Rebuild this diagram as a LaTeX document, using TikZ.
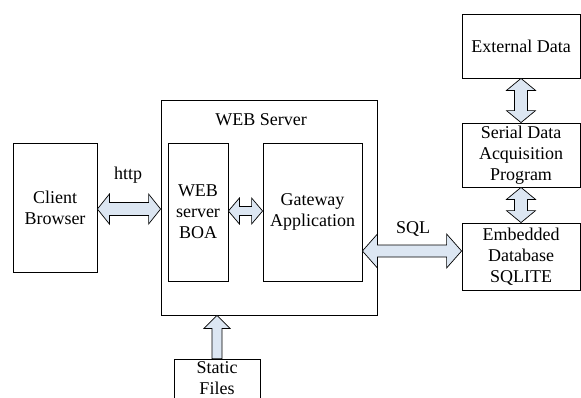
\documentclass[tikz,border=0pt]{standalone}
\usepackage{fontspec}
\setmainfont{Liberation Serif}
\usetikzlibrary{calc}
\definecolor{arrowfill}{HTML}{DCE6F2}
\tikzset{
  box/.style={draw, line width=0.8pt, align=center, inner sep=0pt,
              font=\fontsize{18}{21}\selectfont},
  lbl/.style={font=\fontsize{18}{21}\selectfont, inner sep=0pt},
  fat/.style={draw, line width=0.7pt, fill=arrowfill, line join=miter}
}
% horizontal two-headed block arrow: #1,#2 anchors, #3 shaft half width, #4 head half width, #5 head length
\newcommand\hbiarrow[5]{%
  \draw[fat] let \p1=(#1), \p2=(#2), \n1={(\y1+\y2)/2} in
    (\x1,\n1) -- (\x1+#5,\n1+#4) -- (\x1+#5,\n1+#3) -- (\x2-#5,\n1+#3)
    -- (\x2-#5,\n1+#4) -- (\x2,\n1) -- (\x2-#5,\n1-#4) -- (\x2-#5,\n1-#3)
    -- (\x1+#5,\n1-#3) -- (\x1+#5,\n1-#4) -- cycle;}
% vertical two-headed block arrow
\newcommand\vbiarrow[5]{%
  \draw[fat] let \p1=(#1), \p2=(#2), \n1={(\x1+\x2)/2} in
    (\n1,\y1) -- (\n1+#4,\y1-#5) -- (\n1+#3,\y1-#5) -- (\n1+#3,\y2+#5)
    -- (\n1+#4,\y2+#5) -- (\n1,\y2) -- (\n1-#4,\y2+#5) -- (\n1-#3,\y2+#5)
    -- (\n1-#3,\y1-#5) -- (\n1-#4,\y1-#5) -- cycle;}
% vertical single-headed block arrow pointing from #1 up to #2
\newcommand\vuparrow[5]{%
  \draw[fat] let \p1=(#1), \p2=(#2) in
    (\x2,\y2) -- (\x2+#4,\y2-#5) -- (\x2+#3,\y2-#5) -- (\x2+#3,\y1)
    -- (\x2-#3,\y1) -- (\x2-#3,\y2-#5) -- (\x2-#4,\y2-#5) -- cycle;}
\begin{document}
\begin{tikzpicture}[x=1pt, y=-1pt]
  \useasboundingbox (0,0) rectangle (581,397);
  \clip (0,0) rectangle (581,397);

  % boxes
  \node[box, minimum width=84pt, minimum height=129pt] (client) at (55,207.5) {Client\\Browser};
  \node[draw, line width=0.8pt, minimum width=216pt, minimum height=215pt] (server) at (269,207.5) {};
  \node[lbl] (servertitle) at (261,120) {WEB Server};
  \node[box, minimum width=60pt, minimum height=138pt] (boa) at (198,212) {WEB\\server\\BOA};
  \node[box, minimum width=99pt, minimum height=138pt] (gw) at (312.5,212) {Gateway\\Application};
  \node[box, minimum width=118pt, minimum height=64pt] (ext) at (521,46) {External Data};
  \node[box, minimum width=118pt, minimum height=64pt] (serial) at (521,155) {Serial Data\\Acquisition\\Program};
  \node[box, minimum width=118pt, minimum height=67pt] (db) at (521,256.5) {Embedded\\Database\\SQLITE};
  \node[draw, line width=0.8pt, minimum width=86pt, minimum height=60pt] (static) at (217,389) {};
  \node[box, draw=none, anchor=north, yshift=-2.5pt] (statictext) at (static.north) {Static\\Files};

  % labels
  \node[lbl] (http) at (128,175) {http};
  \node[lbl] (sql) at (413,229) {SQL};

  % block arrows
  \coordinate (cR) at (client.east |- 0,209);
  \coordinate (sL) at (server.west |- 0,209);
  \hbiarrow{cR}{sL}{6.5pt}{15pt}{12pt}
  \coordinate (bR) at (boa.east |- 0,211);
  \coordinate (gL) at (gw.west |- 0,211);
  \hbiarrow{bR}{gL}{4.5pt}{13pt}{11pt}
  \coordinate (gR) at (gw.east |- 0,251);
  \coordinate (dL) at (db.west |- 0,251);
  \hbiarrow{gR}{dL}{6pt}{17pt}{15pt}
  \vbiarrow{ext.south}{serial.north}{6.5pt}{14.5pt}{12pt}
  \vbiarrow{serial.south}{db.north}{6.5pt}{14.5pt}{12pt}
  \coordinate (sB) at (server.south -| static.north);
  \vuparrow{static.north}{sB}{5pt}{13pt}{13pt}
\end{tikzpicture}
\end{document}
